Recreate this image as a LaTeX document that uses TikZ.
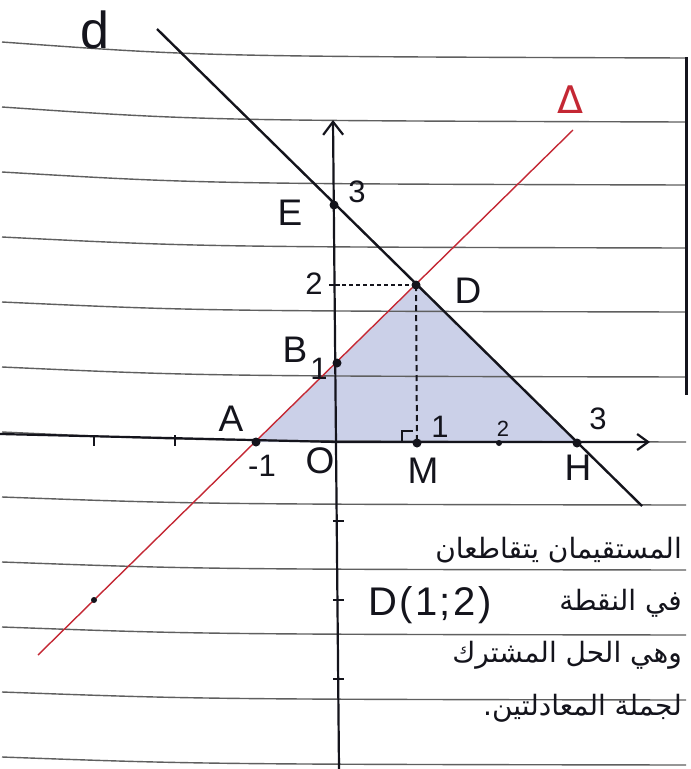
\documentclass[tikz,border=0pt]{standalone}
\usepackage{fontspec}
\setmainfont{Liberation Sans}
\newfontfamily\arabicfont[Script=Arabic]{DejaVu Sans}
\newfontfamily\greekfont{DejaVu Sans}
\usetikzlibrary{arrows.meta}
\TeXXeTstate=1
\definecolor{paper}{RGB}{95,95,95}
\definecolor{trifill}{RGB}{203,208,232}
\definecolor{redline}{RGB}{196,40,52}
\definecolor{ink}{RGB}{20,20,28}
\tikzset{
  paperline/.style={draw=paper, line width=1.4pt},
  axisline/.style={draw=ink, line width=2.2pt},
  dline/.style={draw=ink, line width=2.4pt},
  deltaline/.style={draw=redline, line width=1.4pt},
  tickmark/.style={draw=ink, line width=2.2pt},
  dotpt/.style={circle, fill=ink, inner sep=0pt, minimum size=9pt},
  lbl/.style={font=\fontsize{37}{37}\selectfont, inner sep=0pt, text=ink},
  num/.style={font=\fontsize{31}{31}\selectfont, inner sep=0pt, text=ink},
  artext/.style={font=\arabicfont\fontsize{28}{32}\selectfont, inner sep=0pt, anchor=east, text=ink},
}
\begin{document}
\begin{tikzpicture}[x=1pt,y=-1pt]
\useasboundingbox (0,0) rectangle (691,769);
\fill[white] (0,0) rectangle (691,769);
% key points (pixel coordinates)
\coordinate (O) at (336,442);
\coordinate (A) at (256,442);
\coordinate (B) at (337,363);
\coordinate (D) at (416,285);
\coordinate (E) at (334,205);
\coordinate (H) at (577,443);
\coordinate (M) at (417,443);
\coordinate (T2) at (499,443);
\coordinate (R) at (94,600);
\coordinate (Y2) at (335,285);
\coordinate (dtop) at (157,29);
\coordinate (dbot) at (642,506);
\coordinate (Dtop) at (573,130);
\coordinate (Dbot) at (38,655);
\coordinate (xl) at (0,434);
\coordinate (xr) at (650,442);
\coordinate (yb) at (339,769);
\coordinate (yt) at (333,120);
% shaded triangle
\fill[trifill] (A) -- (D) -- (H) -- cycle;
% ruled paper
\foreach \k/\off in {0/16,1/15,2/13,3/11,4/10,5/10,6/10,7/8,8/8,9/8,10/8,11/8}{
  \pgfmathsetmacro{\yl}{42+65*\k}
  \pgfmathsetmacro{\yr}{\yl+\off}
  \pgfmathsetmacro{\yc}{\yl+0.9*\off}
  \draw[paperline] (2,\yl) .. controls (200,\yc) .. (686,\yr);
}
% right margin line
\draw[draw=ink, line width=3pt] (686,57) -- (686,395);
% axes
\draw[axisline, -{Straight Barb[length=13pt,width=20pt]}] (yb) -- (yt);
\draw[axisline, -{Straight Barb[length=11pt,width=16pt]}] (xl) -- (O) -- (xr);
% ticks
\foreach \x in {94,175}{\draw[tickmark] (\x,435) -- (\x,446);}
\foreach \y in {521,600,679}{\draw[tickmark] (333,\y) -- (344,\y);}
\draw[tickmark] (329,285) -- (340,285);
% lines d and Delta
\draw[dline] (dtop) -- (dbot);
\draw[deltaline] (Dbot) -- (Dtop);
% dashed projections
\draw[draw=ink, line width=1.6pt, dash pattern=on 4pt off 3pt] (Y2) -- (D);
\draw[draw=ink, line width=2pt, dash pattern=on 6pt off 4pt] (D) -- (M);
% right angle mark
\draw[draw=ink, line width=1.8pt] (402,442) -- (402,431) -- (413,431);
% points
\node[dotpt] (pA) at (A) {};
\node[dotpt] (pB) at (B) {};
\node[dotpt] (pD) at (D) {};
\node[dotpt] (pE) at (E) {};
\node[dotpt] (pH) at (H) {};
\node[dotpt] (pM) at (M) {};
\node[dotpt, minimum size=6pt] (pT2) at (T2) {};
\node[dotpt, minimum size=6pt] (pR) at (R) {};
% labels
\node[lbl, font=\fontsize{52}{52}\selectfont] (ld) at (95,30) {d};
\node[lbl, font=\greekfont\fontsize{38}{38}\selectfont, text=redline] (lDelta) at (570,100) {Δ};
\node[lbl] (lE) at (290,213) {E};
\node[num] (l3y) at (357,192) {3};
\node[num] (l2y) at (314,284) {2};
\node[lbl] (lD) at (468,291) {D};
\node[lbl] (lB) at (295,350) {B};
\node[num] (l1y) at (319,369) {1};
\node[lbl] (lA) at (231,419) {A};
\node[num] (lm1) at (262,466) {-1};
\node[lbl] (lO) at (320,461) {O};
\node[lbl] (lM) at (423,471) {M};
\node[num] (l1x) at (440,427) {1};
\node[num, font=\fontsize{22}{22}\selectfont] (l2x) at (503,429) {2};
\node[num] (l3x) at (598,419) {3};
\node[lbl] (lH) at (578,468) {H};
% Arabic text
\node[artext] (t1) at (682,550) {\beginR المستقيمان يتقاطعان\endR};
\node[artext] (t2) at (682,603) {\beginR في النقطة\endR};
\node[lbl, anchor=west, font=\fontsize{40}{40}\selectfont\addfontfeature{LetterSpace=6}] (t2b) at (368,605) {D(1;2)};
\node[artext] (t3) at (682,655) {\beginR وهي الحل المشترك\endR};
\node[artext] (t4) at (682,708) {\beginR لجملة المعادلتين.\endR};
\end{tikzpicture}
\end{document}
